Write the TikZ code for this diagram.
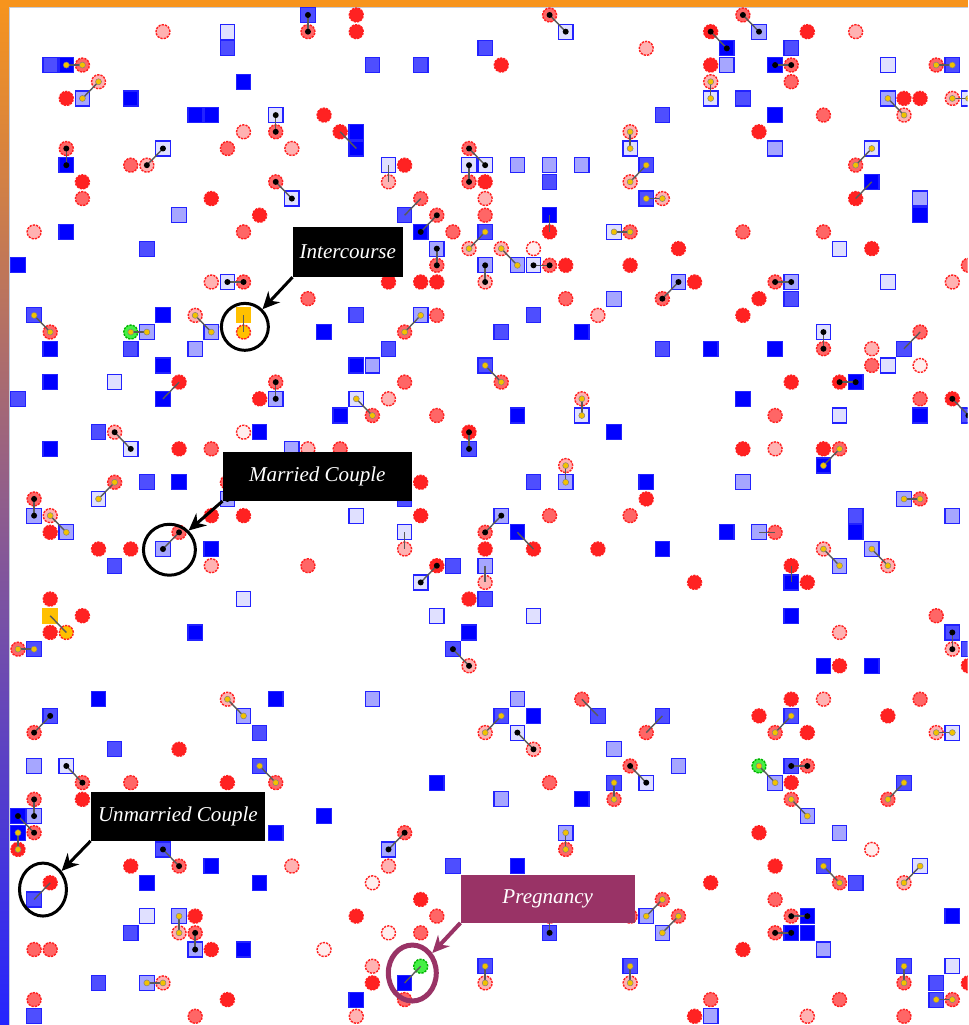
\documentclass[tikz,border=0pt]{standalone}
\usepackage{fontspec}
\setmainfont{Liberation Serif}
\usetikzlibrary{arrows.meta, shapes.geometric}
\definecolor{bandorange}{HTML}{F7941D}
\definecolor{bandplum}{HTML}{B070C8}
\definecolor{bandblue}{HTML}{2424FF}
\definecolor{edgegrey}{HTML}{C4CCDA}
\definecolor{femD}{HTML}{FF2222}
\definecolor{femM}{HTML}{FF6666}
\definecolor{femL}{HTML}{FFB2B2}
\definecolor{femW}{HTML}{FFEEEE}
\definecolor{femline}{HTML}{FF1E1E}
\definecolor{malD}{HTML}{0000FF}
\definecolor{malM}{HTML}{4E4EFF}
\definecolor{malL}{HTML}{A6A6FF}
\definecolor{malW}{HTML}{E0E0FF}
\definecolor{malline}{HTML}{2222FF}
\definecolor{dotgold}{HTML}{F2C200}
\definecolor{actgold}{HTML}{FFC000}
\definecolor{pregreen}{HTML}{44F044}
\definecolor{pregplum}{HTML}{993366}

\begin{document}
\begin{tikzpicture}[
    x=0.02cm, y=-0.02cm,
    >={Stealth[length=3.4mm, width=3.2mm]},
    agentc/.style={circle, inner sep=0pt, minimum size=0.28cm,
                   line width=0.028cm, dash pattern=on 0.045cm off 0.022cm},
    agents/.style={rectangle, inner sep=0pt, minimum width=0.29cm,
                   minimum height=0.30cm, line width=0.024cm, draw=malline},
    cD/.style={agentc, draw=femline, fill=femD},
    cM/.style={agentc, draw=femline, fill=femM},
    cL/.style={agentc, draw=femline, fill=femL},
    cW/.style={agentc, draw=femline, fill=femW},
    cG/.style={agentc, draw=green!70!black, fill=pregreen},
    cY/.style={agentc, draw=femline, fill=actgold},
    sD/.style={agents, fill=malD},
    sM/.style={agents, fill=malM},
    sL/.style={agents, fill=malL},
    sW/.style={agents, fill=malW},
    sY/.style={agents, fill=actgold, draw=actgold},
    pairline/.style={draw=black!65, line width=0.028cm},
    callout/.style={fill=black, text=white, inner sep=0pt,
                    font=\fontsize{12}{14}\selectfont\itshape},
    ring/.style={ellipse, draw=black, line width=0.06cm, inner sep=0pt},
    callarrow/.style={->, line width=0.06cm},
  ]

  % Background and frame
  \fill[white] (0,0) rectangle (968,1025);
  \shade[top color=bandorange, middle color=bandplum, bottom color=bandblue]
    (0,0) rectangle (10,1025);
  \fill[bandorange] (0,0) rectangle (968,8);
  \draw[edgegrey, line width=0.02cm] (10,1025) -- (10,8) -- (968,8);

  % Agents on the grid
  \begin{scope}
    \clip (10,8) rectangle (968,1025);
    \begin{scope}[shift={(18,15)}, x=0.3224cm, y=-0.334cm]

      % Women
      \foreach \i/\j in {21/0,21/1,43/1,49/1,30/3,43/3,3/5,55/5,56/5,19/6,20/7,46/7,
          24/9,4/10,29/10,12/11,52/11,15/12,33/13,41/14,53/14,34/15,38/15,23/16,25/16,
          26/16,42/16,46/17,45/18,10/22,48/22,51/22,15/23,58/23,28/25,10/26,45/26,50/26,
          25/28,39/29,12/30,14/30,25/30,2/31,5/32,7/32,29/32,32/32,36/32,26/33,48/33,
          42/34,49/34,2/35,28/35,4/36,2/37,51/39,59/39,48/41,46/42,54/42,49/43,10/44,
          13/46,48/46,4/47,46/49,0/50,7/51,47/51,2/52,43/52,25/53,11/54,21/54,12/56,
          45/56,22/58,59/58,13/59,42/60}
        \node[cD] (a-\i-\j) at (\i,\j) {};
      \foreach \i/\j in {18/1,33/0,45/0,4/3,48/3,57/3,48/4,50/6,16/7,3/8,13/8,28/8,7/9,
          52/9,16/10,28/10,4/11,25/11,26/12,29/12,14/13,27/13,45/13,50/13,38/13,26/15,
          33/15,59/15,14/16,47/16,18/17,34/17,40/17,26/18,2/19,24/19,56/19,50/20,53/21,
          16/22,24/22,30/22,56/23,22/24,26/24,47/24,51/26,12/26,20/26,6/28,13/28,1/29,
          56/29,33/30,38/30,10/31,29/31,47/31,18/33,57/36,0/38,35/41,56/41,1/43,39/43,
          47/43,38/45,49/45,4/46,7/46,16/46,33/46,1/47,37/47,48/47,54/47,1/49,24/49,
          34/50,10/51,51/52,40/53,47/53,26/54,33/54,38/54,41/54,48/54,11/55,25/55,47/55,
          1/56,2/56,55/58,1/59,24/59,43/59,51/59,58/59,11/60,55/60}
        \node[cM] (a-\i-\j) at (\i,\j) {};
      \foreach \i/\j in {9/1,52/1,39/2,5/4,43/4,58/5,55/6,14/7,38/7,17/8,8/9,23/10,38/10,
          29/11,40/11,1/13,28/14,30/14,12/16,29/16,58/16,11/18,36/18,53/20,23/23,35/23,
          6/25,18/26,47/26,34/27,2/30,24/32,50/32,12/33,54/33,29/34,51/37,58/38,28/39,
          13/41,50/41,29/43,57/43,32/44,17/51,23/51,55/52,10/55,22/57,9/58,29/58,38/58,
          21/60,49/60}
        \node[cL] (a-\i-\j) at (\i,\j) {};
      \foreach \i/\j in {32/14,14/25,56/21,53/50,22/52,23/55,19/56}
        \node[cW] (a-\i-\j) at (\i,\j) {};
      \foreach \i/\j in {7/19,29/52,46/45,25/57}
        \node[cG] (a-\i-\j) at (\i,\j) {};
      \foreach \i/\j in {14/19,3/37}
        \node[cY] (a-\i-\j) at (\i,\j) {};

      % Men
      \foreach \i/\j in {3/3,7/5,14/4,44/2,47/3,11/6,12/6,47/6,3/9,53/10,21/7,21/8,33/12,
          56/12,3/13,25/13,0/15,9/18,19/19,2/20,43/20,47/20,35/19,9/21,21/21,2/22,52/22,
          9/23,45/23,20/24,31/24,56/24,15/25,37/25,2/26,50/27,10/28,39/28,31/31,44/31,
          52/31,12/32,40/32,48/34,48/36,11/37,28/37,50/39,53/39,5/41,16/41,32/42,26/46,
          35/47,0/48,19/48,0/49,16/49,12/51,31/51,8/52,15/52,49/54,58/54,48/55,49/55,
          14/56,24/58,21/59}
        \node[sD] (a-\i-\j) at (\i,\j) {};
      \foreach \i/\j in {18/0,13/2,29/2,48/2,2/3,22/3,25/3,58/3,45/5,40/6,39/9,33/10,39/11,
          24/12,29/13,8/14,48/17,1/18,21/18,32/18,30/19,7/20,23/20,40/20,55/20,29/21,0/23,
          59/24,5/25,28/26,8/28,32/28,24/29,52/30,6/33,27/33,29/35,58/37,1/38,27/38,59/38,
          2/42,30/42,36/42,40/42,48/42,15/43,6/44,15/45,48/45,37/46,55/46,9/50,27/51,
          50/51,52/52,1/53,7/55,33/55,29/57,38/57,55/57,5/58,57/58,57/59,1/60}
        \node[sM] (a-\i-\j) at (\i,\j) {};
      \foreach \i/\j in {46/1,44/3,4/5,54/5,47/8,31/9,33/9,35/9,56/11,10/12,26/14,29/15,
          31/15,41/16,48/16,37/17,25/18,8/19,12/19,11/20,22/21,16/23,17/26,34/28,45/28,
          13/29,1/30,30/30,3/31,46/31,55/29,58/30,9/32,53/32,29/33,51/33,22/41,31/41,
          14/42,37/44,1/45,41/45,47/46,30/47,1/48,49/48,34/49,51/49,23/50,10/54,39/54,
          40/55,11/56,50/56,8/58,43/60}
        \node[sL] (a-\i-\j) at (\i,\j) {};
      \foreach \i/\j in {13/1,34/1,54/3,43/5,59/5,16/6,9/8,38/8,53/8,23/9,28/9,29/9,17/11,
          37/13,51/14,13/16,32/15,54/16,50/19,54/21,6/22,21/23,35/24,51/24,7/26,5/29,
          21/30,24/31,25/34,14/35,26/36,32/36,58/43,31/43,3/45,39/46,56/51,8/54,58/57}
        \node[sW] (a-\i-\j) at (\i,\j) {};
      \foreach \i/\j in {14/18,2/36}
        \node[sY] (a-\i-\j) at (\i,\j) {};

      % Married couples
      \foreach \ia/\ja/\ib/\jb in {18/0/18/1,16/6/16/7,3/8/3/9,9/8/8/9,16/10/17/11,
          33/0/34/1,45/0/46/1,43/1/44/2,47/3/48/3,28/8/29/9,28/9/28/10,26/12/25/13,
          26/14/26/15,32/15/33/15,29/15/29/16,13/16/14/16,16/22/16/23,28/25/28/26,
          6/25/7/26,1/29/1/30,10/31/9/32,13/28/13/29,41/16/40/17,47/16/48/16,
          50/19/50/20,51/22/52/22,58/23/59/24,30/30/29/31,26/33/25/34,58/37/58/38,
          27/38/28/39,2/42/1/43,31/43/32/44,3/45/4/46,38/45/39/46,48/45/49/45,
          1/47/1/48,0/48/1/49,24/49/23/50,9/50/10/51,48/54/49/54,47/55/48/55,
          11/55/11/56,33/54/33/55} {
        \draw[pairline] (a-\ia-\ja.center) -- (a-\ib-\jb.center);
        \fill[black] (a-\ia-\ja.center) circle[radius=0.06cm]
                     (a-\ib-\jb.center) circle[radius=0.06cm];
      }
      \foreach \ia/\ja/\ib/\jb in {3/3/4/3,5/4/4/5,57/3/58/3,43/4/43/5,54/5/55/6,
          58/5/59/5,53/8/52/9,38/7/38/8,39/9/38/10,39/11/40/11,37/13/38/13,29/13/28/14,
          30/14/31/15,11/18/12/19,25/18/24/19,1/18/2/19,7/19/8/19,21/23/22/24,6/28/5/29,
          2/30/3/31,29/21/30/22,35/23/35/24,51/26/50/27,34/27/34/28,55/29/56/29,
          50/32/51/33,53/32/54/33,0/38/1/38,13/41/14/42,30/42/29/43,48/42/47/43,
          57/43/58/43,15/45/16/46,46/45/47/46,55/46/54/47,37/46/37/47,48/47/49/48,
          0/49/0/50,34/49/34/50,50/51/51/52,56/51/55/52,40/53/39/54,41/54/40/55,
          10/54/10/55,29/57/29/58,38/57/38/58,55/57/55/58,57/59/58/59,8/58/9/58} {
        \draw[pairline] (a-\ia-\ja.center) -- (a-\ib-\jb.center);
        \filldraw[dotgold, draw=black!50, line width=0.01cm]
          (a-\ia-\ja.center) circle[radius=0.06cm]
          (a-\ib-\jb.center) circle[radius=0.06cm];
      }

      % Unmarried couples
      \foreach \ia/\ja/\ib/\jb in {23/9/23/10,25/11/24/12,33/12/33/13,53/10/52/11,
          10/22/9/23,24/31/24/32,56/19/55/20,31/31/32/32,46/31/47/31,29/33/29/34,
          48/33/48/34,35/41/36/42,40/42/39/43,2/52/1/53,25/57/24/58,20/7/21/8,
          14/18/14/19,2/36/3/37}
        \draw[pairline] (a-\ia-\ja.center) -- (a-\ib-\jb.center);
    \end{scope}
  \end{scope}

  % Callouts
  \node[callout, minimum width=2.2cm, minimum height=1.0cm] (boxInter) at (348,252) {Intercourse};
  \node[ring, minimum width=0.94cm, minimum height=0.94cm] (ringInter) at (245,327) {};
  \draw[callarrow] (boxInter.south west) -- (ringInter.45);

  \node[callout, minimum width=3.78cm, minimum height=0.98cm] (boxMarried) at (317.5,476.5) {Married Couple};
  \node[ring, minimum width=1.04cm, minimum height=1.02cm] (ringMarried) at (169.5,550) {};
  \draw[callarrow] (boxMarried.south west) -- (ringMarried.45);

  \node[callout, minimum width=3.48cm, minimum height=0.98cm] (boxUnmarried) at (178,816.5) {Unmarried Couple};
  \node[ring, minimum width=0.94cm, minimum height=1.06cm] (ringUnmarried) at (43,890) {};
  \draw[callarrow] (boxUnmarried.south west) -- (ringUnmarried.45);

  \node[callout, fill=pregplum, minimum width=3.48cm, minimum height=0.96cm] (boxPreg) at (548,899) {Pregnancy};
  \node[ring, draw=pregplum, line width=0.1cm, minimum width=0.96cm, minimum height=1.12cm] (ringPreg) at (412.5,973.5) {};
  \draw[callarrow, pregplum, line width=0.08cm] (boxPreg.south west) -- (ringPreg.45);

\end{tikzpicture}
\end{document}
